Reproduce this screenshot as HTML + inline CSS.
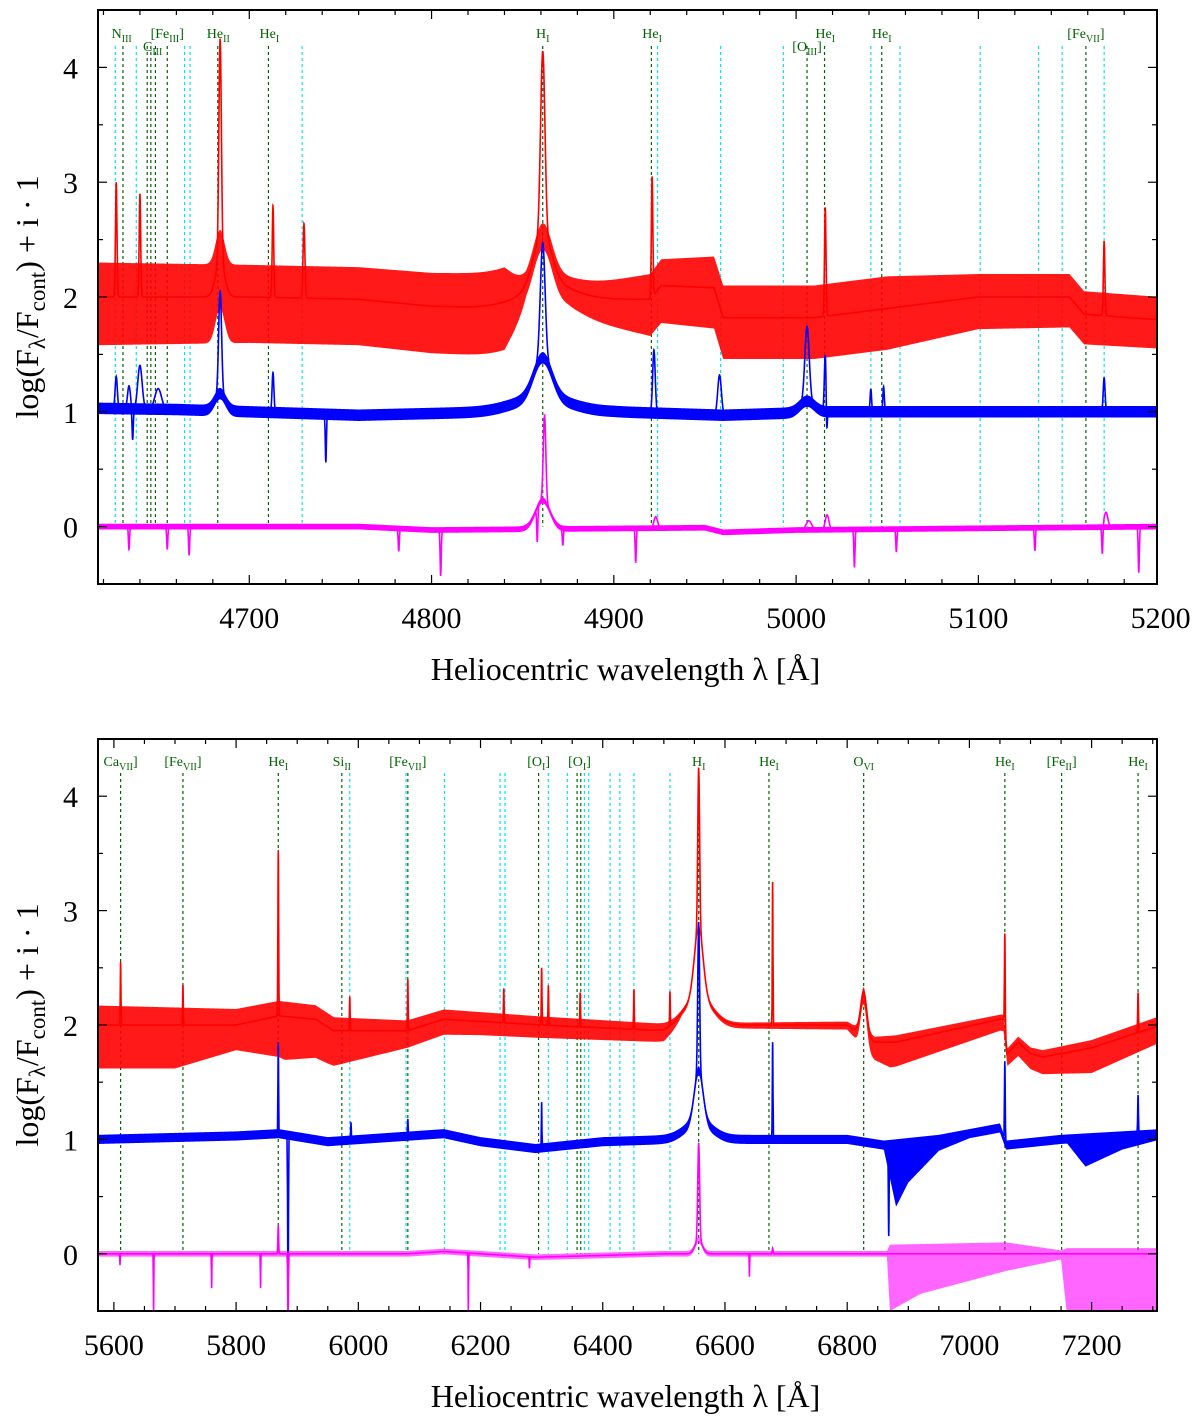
<!DOCTYPE html>
<html><head><meta charset="utf-8"><style>
body{margin:0;background:#fff}
svg{display:block}
text{font-family:"Liberation Serif",serif}
</style></head><body>
<svg id="chart" width="1200" height="1422" viewBox="0 0 1200 1422" xmlns="http://www.w3.org/2000/svg"></svg>
<script>
// ---------- DATA ----------
const topGreenLines=[4630.7,4644,4646,4648.5,4655,4682.7,4710.5,4861,4920.6,5006,5015.6,5047,5159];
const topCyanLines=[4626.5,4638,4664.5,4667.5,4729,4924,4958.6,4993,5041,5057,5101,5133,5146,5169,5199];
const topLabels=[["N","III","",4630,0],["C","III","",4647,1],["[Fe","III","]",4655,0],["He","II","",4683,0],["He","I","",4711,0],["H","I","",4861,0],["He","I","",4921,0],["[O","III","]",5006,1],["He","I","",5016,0],["He","I","",5047,0],["[Fe","VII","]",5159,0]];
const topXTicks=[4700,4800,4900,5000,5100,5200];
const botXTicks=[5600,5800,6000,6200,6400,6600,6800,7000,7200];
const yTicks=[0,1,2,3,4];
const botGreenLines=[5611,5713,5869,5973,6081,6295,6358,6364,6557,6672,6827,7058,7151,7276];
const botCyanLines=[5986,6078,6141,6232,6240,6311,6342,6370,6377,6412,6428,6451,6510];
const botLabels=[["Ca","VII","]",5611],["[Fe","VII","]",5713],["He","I","",5869],["Si","II","",5973],["[Fe","VII","]",6081],["[O","I","]",6295],["[O","I","]",6362],["H","I","",6557],["He","I","",6672],["O","VI","",6827],["He","I","",7058],["[Fe","II","]",7151],["He","I","",7276]];

// series: continuum anchors [λ,level], noise envelopes [λ,amp], gaussian lines [λ,height,sigma]
const topRedCont=[[4617,2.0],[4700,2.0],[4760,1.98],[4800,1.92],[4845,1.9],[4875,1.98],[4920,1.98],[4926,2.1],[4955,2.08],[4960,1.82],[5010,1.82],[5040,1.88],[5100,2.0],[5150,2.0],[5158,1.85],[5200,1.8]];
const topRedUp=[[4617,0.3],[4700,0.28],[4760,0.28],[4840,0.3],[4852,0.1],[4875,0.1],[4920,0.22],[4960,0.28],[5050,0.28],[5100,0.2],[5200,0.2]];
const topRedDn=[[4617,0.42],[4700,0.4],[4760,0.4],[4840,0.42],[4852,0.12],[4875,0.15],[4920,0.32],[4960,0.36],[5050,0.36],[5100,0.28],[5200,0.25]];
const topRedLines=[[4627,1.0,0.4],[4640,0.9,0.4],[4684,1.95,0.7],[4684,0.3,2.5],[4713,0.8,0.4],[4730,0.65,0.5],[4861,1.6,1.2],[4861,0.45,5],[4861,0.15,15],[4921,1.05,0.4],[5016,0.95,0.4],[5169,0.65,0.4],[5199,0.6,0.5]];
const topBlueCont=[[4617,1.03],[4660,1.02],[4760,0.97],[4840,1.0],[4900,1.0],[4960,0.97],[5020,1.0],[5200,1.0]];
const topBlueUp=[[4617,0.05],[5200,0.05]];
const topBlueDn=[[4617,0.05],[5200,0.05]];
const topBlueLines=[[4627,0.28,0.6],[4634,0.2,0.8],[4640,0.38,1.2],[4650,0.18,1.8],[4684,0.9,0.8],[4684,0.15,3],[4713,0.35,0.5],[4861,1.0,1.3],[4861,0.35,5],[4861,0.12,15],[4922,0.55,0.7],[4958,0.35,1.0],[5006,0.65,1.2],[5006,0.1,4],[5016,0.5,0.5],[5041,0.2,0.4],[5048,0.22,0.4],[5169,0.3,0.5],[5199,0.25,0.5],[4636,-0.28,0.35],[4742,-0.42,0.3],[5016.8,-0.25,0.3]];
const topPinkCont=[[4617,0.0],[4760,0.0],[4800,-0.03],[4950,-0.01],[4960,-0.05],[5000,-0.03],[5200,0.0]];
const topPinkUp=[[4617,0.025],[5200,0.025]];
const topPinkDn=[[4617,0.025],[5200,0.025]];
const topPinkLines=[[4862,0.75,0.7],[4861,0.25,4],[4923,0.1,1],[5007,0.08,1.5],[5017,0.13,1],[5170,0.13,1],[4805,-0.4,0.3],[4912,-0.3,0.3],[5032,-0.33,0.3],[5188,-0.4,0.3],[4782,-0.2,0.3],[4858,-0.3,0.3],[4872,-0.15,0.3],[4634,-0.2,0.3],[4667,-0.25,0.3],[5131,-0.2,0.3],[5168,-0.25,0.3],[4655,-0.2,0.3],[5055,-0.2,0.3]];

const botRedCont=[[5574,2.0],[5800,2.0],[5870,2.08],[5930,2.05],[5960,1.95],[6080,1.95],[6140,2.05],[6300,2.0],[6500,1.95],[6530,2.0],[6600,2.0],[6800,2.0],[6845,1.85],[6880,1.85],[7050,2.05],[7056,2.05],[7062,1.75],[7080,1.85],[7100,1.75],[7120,1.72],[7200,1.8],[7313,2.0]];
const botRedUp=[[5574,0.17],[5800,0.14],[5950,0.12],[6080,0.09],[6500,0.06],[6530,0.02],[6600,0.02],[6800,0.03],[6880,0.06],[7050,0.04],[7120,0.06],[7313,0.08]];
const botRedDn=[[5574,0.38],[5700,0.38],[5800,0.22],[5880,0.38],[5950,0.32],[6080,0.15],[6200,0.12],[6500,0.1],[6530,0.03],[6600,0.03],[6800,0.04],[6870,0.22],[7050,0.1],[7120,0.15],[7200,0.22],[7313,0.15]];
const botRedLines=[[5611,0.55,0.5],[5713,0.35,0.5],[5869,1.45,0.6],[5986,0.3,0.5],[6081,0.45,0.5],[6238,0.3,0.5],[6300,0.5,0.5],[6311,0.35,0.5],[6363,0.3,0.5],[6451,0.35,0.5],[6510,0.3,0.5],[6557,1.4,1.5],[6557,0.6,7],[6557,0.25,22],[6678,1.25,0.5],[6827,0.38,5],[7058,0.85,0.6],[7276,0.35,0.6]];
const botBlueCont=[[5574,1.0],[5800,1.03],[5870,1.05],[5950,0.98],[6140,1.05],[6200,0.98],[6290,0.92],[6400,0.98],[6520,1.0],[6800,1.0],[6860,0.95],[6950,1.0],[7050,1.1],[7060,0.95],[7150,1.0],[7313,1.05]];
const botBlueUp=[[5574,0.04],[7313,0.04]];
const botBlueDn=[[5574,0.04],[6860,0.04],[6880,0.55],[6900,0.35],[6950,0.1],[7000,0.04],[7160,0.04],[7190,0.25],[7250,0.12],[7313,0.05]];
const botBlueLines=[[5869,0.8,0.5],[5885,-1.5,0.6],[5988,0.15,0.5],[6081,0.15,0.5],[6300,0.4,0.4],[6557,1.3,1.5],[6557,0.45,7],[6557,0.15,22],[6678,0.85,0.5],[6868,-0.8,0.6],[7058,0.7,0.6],[7276,0.35,0.6]];
const botPinkCont=[[5574,0.0],[6080,0.0],[6140,0.02],[6290,-0.03],[6500,0.0],[7313,0.0]];
const botPinkUp=[[5574,0.025],[6865,0.025],[6870,0.08],[7060,0.1],[7150,0.03],[7160,0.05],[7313,0.05]];
const botPinkDn=[[5574,0.025],[6865,0.025],[6870,0.5],[6920,0.35],[7060,0.15],[7150,0.05],[7160,0.55],[7313,0.55]];
const botPinkLines=[[5869,0.25,0.6],[5885,-0.6,0.5],[6557,0.85,1.5],[6557,0.12,6],[6678,0.05,0.6],[5665,-0.5,0.3],[5610,-0.1,0.3],[5760,-0.3,0.3],[5840,-0.3,0.3],[6180,-0.5,0.3],[6280,-0.1,0.3],[6640,-0.2,0.3]];

// ---------- RENDER ----------
const NS="http://www.w3.org/2000/svg";
const svg=document.getElementById('chart');
function el(t,a,p){const e=document.createElementNS(NS,t);for(const k in a)e.setAttribute(k,a[k]);(p||svg).appendChild(e);return e;}
function interp(arr,l){if(l<=arr[0][0])return arr[0][1];for(let i=1;i<arr.length;i++){if(l<=arr[i][0]){const a=arr[i-1],b=arr[i];return a[1]+(b[1]-a[1])*(l-a[0])/(b[0]-a[0]);}}return arr[arr.length-1][1];}

function panel(cfg){
  const g=el('g',{});
  
  
  const X=l=>cfg.x0+(l-cfg.l0)/(cfg.l1-cfg.l0)*(cfg.x1-cfg.x0);
  const Y=v=>cfg.y0+(v-(-0.5))*(cfg.yTop-cfg.y0)/(4.5+0.5);
  const clip='clip-'+cfg.name;
  const cp=el('clipPath',{id:clip},g);el('rect',{x:cfg.x0,y:cfg.yTop,width:cfg.x1-cfg.x0,height:cfg.y0-cfg.yTop},cp);
  const plot=el('g',{'clip-path':'url(#'+clip+')'},g);
  const yEnd=Y(0);
  cfg.cyan.forEach(l=>{const e=el('line',{x1:X(l),x2:X(l),y1:cfg.lineTop,y2:yEnd,stroke:'#00e5ee','stroke-width':1.2,'stroke-dasharray':'3,3'},plot);
    });
  cfg.green.forEach(l=>{const e=el('line',{x1:X(l),x2:X(l),y1:cfg.lineTop,y2:yEnd,stroke:'#006400','stroke-width':1.2,'stroke-dasharray':'3,3'},plot);
    });
  cfg.series.forEach(s=>{
    const samples=[];const step=(cfg.l1-cfg.l0)/((cfg.x1-cfg.x0)*2);
    for(let l=cfg.l0;l<=cfg.l1;l+=step)samples.push(l);
    s.lines.forEach(L=>{for(const d of [-1,-0.4,0,0.4,1])samples.push(L[0]+d*L[2]);});
    samples.sort((a,b)=>a-b);
    const prof=(l,broadOnly)=>{let v=interp(s.cont,l);s.lines.forEach(L=>{if(broadOnly&&L[2]<2)return;const u=(l-L[0])/L[2];if(Math.abs(u)<6)v+=L[1]*Math.exp(-0.5*u*u);});return v;};
    let up='',dn='',ln='';
    samples.forEach((l,i)=>{const v=prof(l,false);const b=prof(l,true);const x=X(l).toFixed(2);
      up+=(i?'L':'M')+x+','+Y(b+interp(s.up,l)).toFixed(2);
      ln+=(i?'L':'M')+x+','+Y(v).toFixed(2);});
    for(let i=samples.length-1;i>=0;i--){const l=samples[i];dn+='L'+X(l).toFixed(2)+','+Y(prof(l,true)-interp(s.dn,l)).toFixed(2);}
    const band=el('path',{d:up+dn+'Z',fill:s.color,'fill-opacity':s.op||1,stroke:'none'},plot);
    
    const p=el('path',{d:ln,fill:'none',stroke:s.color,'stroke-width':1.6},plot);
    
  });
  cfg.labels.forEach(L=>{const t=el('text',{x:X(L[3]),y:cfg.labelY+(L[4]?13:0),'text-anchor':'middle','font-size':14,fill:'#006400'},g);
    
    t.appendChild(document.createTextNode(L[0]));
    const sb=el('tspan',{dy:4,'font-size':10},t);sb.textContent=L[1];
    if(L[2]){const r=el('tspan',{dy:-4},t);r.textContent=L[2];}
  });
  const fr=el('rect',{x:cfg.x0,y:cfg.yTop,width:cfg.x1-cfg.x0,height:cfg.y0-cfg.yTop,fill:'none',stroke:'#000','stroke-width':2},g);
  
  for(let l=Math.ceil(cfg.l0/cfg.minor)*cfg.minor;l<=cfg.l1;l+=cfg.minor){
    const major=cfg.xticks.includes(l);const len=major?9:5;const x=X(l);
    el('line',{x1:x,x2:x,y1:cfg.y0,y2:cfg.y0-len,stroke:'#000','stroke-width':1.2},g);
    el('line',{x1:x,x2:x,y1:cfg.yTop,y2:cfg.yTop+len,stroke:'#000','stroke-width':1.2},g);
  }
  cfg.xticks.forEach(l=>{const t=el('text',{x:X(l),y:cfg.y0+44,'text-anchor':'middle','font-size':30},g);t.textContent=l;
    });
  for(let v=-0.5;v<=4.5;v+=0.5){const y=Y(v);const len=Number.isInteger(v)?9:5;
    el('line',{x1:cfg.x0,x2:cfg.x0+len,y1:y,y2:y,stroke:'#000','stroke-width':1.2},g);
    el('line',{x1:cfg.x1,x2:cfg.x1-len,y1:y,y2:y,stroke:'#000','stroke-width':1.2},g);}
  yTicks.forEach(v=>{const t=el('text',{x:78,y:Y(v)+11,'text-anchor':'end','font-size':30},g);t.textContent=v;
    });
  const xt=el('text',{x:(cfg.x0+cfg.x1)/2-2,y:cfg.y0+96,'text-anchor':'middle','font-size':32},g);
  
  xt.textContent='Heliocentric wavelength λ [Å]';
  const cy=(cfg.y0+cfg.yTop)/2;
  const yt=el('text',{x:0,y:0,'text-anchor':'middle','font-size':32,transform:'translate(38,'+cy+') rotate(-90)'},g);
  
  yt.appendChild(document.createTextNode('log(F'));
  let a=el('tspan',{dy:7,'font-size':23},yt);a.textContent='λ';
  a=el('tspan',{dy:-7},yt);a.textContent='/F';
  a=el('tspan',{dy:7,'font-size':23},yt);a.textContent='cont';
  a=el('tspan',{dy:-7},yt);a.textContent=') + i · 1';
}

panel({name:'top-panel',x0:98,x1:1157,yTop:10,y0:584,l0:4617,l1:5198,xticks:topXTicks,minor:20,
  cyan:topCyanLines,green:topGreenLines,labels:topLabels,labelY:38,lineTop:46,
  series:[
   {name:'top-red-spectrum',color:'#ff0000',cont:topRedCont,up:topRedUp,dn:topRedDn,lines:topRedLines,op:0.9},
   {name:'top-blue-spectrum',color:'#0000ff',cont:topBlueCont,up:topBlueUp,dn:topBlueDn,lines:topBlueLines},
   {name:'top-magenta-spectrum',color:'#ff00ff',cont:topPinkCont,up:topPinkUp,dn:topPinkDn,lines:topPinkLines}]});
panel({name:'bottom-panel',x0:98,x1:1157,yTop:739,y0:1311,l0:5574,l1:7307,xticks:botXTicks,minor:50,
  cyan:botCyanLines,green:botGreenLines,labels:botLabels.map(l=>[l[0],l[1],l[2],l[3],0]),labelY:766,lineTop:773,
  series:[
   {name:'bottom-red-spectrum',color:'#ff0000',cont:botRedCont,up:botRedUp,dn:botRedDn,lines:botRedLines,op:0.9},
   {name:'bottom-blue-spectrum',color:'#0000ff',cont:botBlueCont,up:botBlueUp,dn:botBlueDn,lines:botBlueLines},
   {name:'bottom-magenta-spectrum',color:'#ff00ff',cont:botPinkCont,up:botPinkUp,dn:botPinkDn,lines:botPinkLines,op:0.6}]});
</script>
</body></html>
